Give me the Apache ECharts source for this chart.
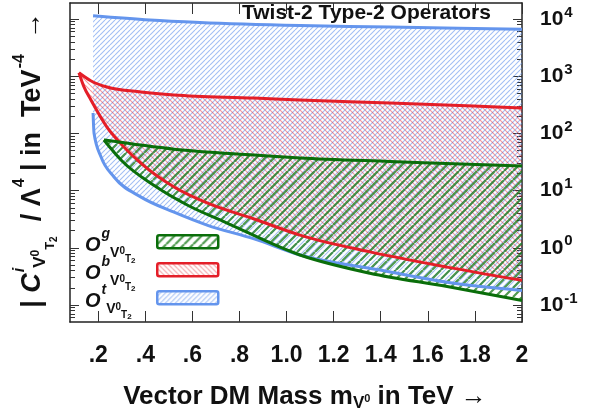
<!DOCTYPE html>
<html><head><meta charset="utf-8">
<script src="https://cdn.jsdelivr.net/npm/echarts@6/dist/echarts.min.js"></script>
<style>html,body{margin:0;padding:0;background:#fff}#c{width:591px;height:418px}</style>
</head><body><div id="c"></div>
<script>
const FONT = '"Liberation Sans", Arial, Helvetica, sans-serif';

// ---- data (x in TeV, y = |C/Lambda^4| in TeV^-4) ----
// O^t (blue) band
const tUpX = [0.178, 0.42, 0.632, 1.057, 1.44, 2.0];
const tUpY = [11400, 9600, 8700, 7700, 7250, 6600];
const tLoX = [0.178, 0.182, 0.212, 0.267, 0.382, 0.522, 0.662, 0.862, 1.057, 1.397, 1.682, 2.0];
const tLoY = [227, 102, 38.6, 17.3, 7.7, 4.2, 2.5, 1.43, 0.75, 0.41, 0.25, 0.18];
// O^b (red) band
const bUpX = [0.118, 0.168, 0.237, 0.382, 0.522, 0.862, 1.057, 1.439, 2.0];
const bUpY = [1150, 835, 647, 530, 469, 416, 384, 340, 278];
const bLoX = [0.118, 0.139, 0.169, 0.237, 0.309, 0.382, 0.522, 0.662, 0.862, 1.057, 1.354, 1.682, 2.0];
const bLoY = [1150, 656, 384, 129, 58, 30, 11.6, 6.1, 3.19, 1.67, 0.85, 0.46, 0.27];
// O^g (green) band
const gUpX = [0.224, 0.522, 0.862, 1.057, 1.439, 2.0];
const gUpY = [76.7, 53.1, 41.9, 37.2, 32.3, 26.9];
const gLoX = [0.224, 0.301, 0.441, 0.586, 0.738, 1.057, 1.354, 1.682, 2.0];
const gLoY = [76.7, 32.9, 12.0, 5.38, 2.82, 0.75, 0.36, 0.21, 0.12];

// ---- axes ----
const X_MIN = 0.08, X_MAX = 2.0;
const Y_MIN = 0.0505, Y_MAX = 19050;
const xTickValues = [0.2, 0.4, 0.6, 0.8, 1.0, 1.2, 1.4, 1.6, 1.8, 2.0];
const xTickLabels = ['.2', '.4', '.6', '.8', '1.0', '1.2', '1.4', '1.6', '1.8', '2'];
const yDecades = [-1, 0, 1, 2, 3, 4];
const yDecadeLabels = ['-1', '0', '1', '2', '3', '4'];
const yMinorMultipliers = [2, 3, 4, 5, 6, 7, 8, 9];

const lgMin = Math.log10(Y_MIN), lgMax = Math.log10(Y_MAX);
const yMinor = [];
for (let d = -2; d <= 4; d++) {
  yMinorMultipliers.forEach(k => {
    const v = d + Math.log10(k);
    if (v > lgMin && v < lgMax) yMinor.push(v);
  });
}

const COL = { t: 'rgb(100,149,237)', b: 'rgb(228,30,40)', g: 'rgb(10,110,10)' };

function hatch(color, period, width, dir) {
  const c = document.createElement('canvas');
  c.width = period; c.height = period;
  const ctx = c.getContext('2d');
  ctx.strokeStyle = color; ctx.lineWidth = width;
  ctx.beginPath();
  for (let k = -1; k <= 1; k++) {
    if (dir > 0) { ctx.moveTo(k * period, period); ctx.lineTo(k * period + period, 0); }
    else { ctx.moveTo(k * period, 0); ctx.lineTo(k * period + period, period); }
  }
  ctx.stroke();
  return { image: c, repeat: 'repeat' };
}
const PAT = {
  t: hatch('rgba(100,149,237,0.6)', 5, 1.1, 1),
  b: hatch('rgba(228,30,40,0.45)', 5, 1.1, -1),
  g: hatch('rgba(20,120,20,0.75)', 9, 2.2, 1)
};

// monotone cubic (d3 monotoneX style) segments in pixel space
function segments(pts) {
  const n = pts.length, h = [], s = [], t = [];
  for (let i = 0; i < n - 1; i++) {
    h[i] = pts[i + 1][0] - pts[i][0];
    s[i] = (pts[i + 1][1] - pts[i][1]) / h[i];
  }
  for (let i = 1; i < n - 1; i++) {
    const p = (s[i - 1] * h[i] + s[i] * h[i - 1]) / (h[i - 1] + h[i]);
    t[i] = (Math.sign(s[i - 1]) + Math.sign(s[i])) * Math.min(Math.abs(s[i - 1]), Math.abs(s[i]), 0.5 * Math.abs(p)) || 0;
  }
  t[0] = n > 2 ? (3 * s[0] - t[1]) / 2 : s[0];
  t[n - 1] = n > 2 ? (3 * s[n - 2] - t[n - 2]) / 2 : s[0];
  const segs = [];
  for (let i = 0; i < n - 1; i++) {
    const d = h[i] / 3;
    segs.push({
      p0: pts[i], p1: pts[i + 1],
      c1: [pts[i][0] + d, pts[i][1] + t[i] * d],
      c2: [pts[i + 1][0] - d, pts[i + 1][1] - t[i + 1] * d]
    });
  }
  return segs;
}
const f = v => v.toFixed(2);
function fwd(segs) { return segs.map(g => 'C' + f(g.c1[0]) + ',' + f(g.c1[1]) + ' ' + f(g.c2[0]) + ',' + f(g.c2[1]) + ' ' + f(g.p1[0]) + ',' + f(g.p1[1])).join(' '); }
function rev(segs) { return segs.slice().reverse().map(g => 'C' + f(g.c2[0]) + ',' + f(g.c2[1]) + ' ' + f(g.c1[0]) + ',' + f(g.c1[1]) + ' ' + f(g.p0[0]) + ',' + f(g.p0[1])).join(' '); }

function bandSeries(key, upX, upY, loX, loY, mode) {
  return {
    type: 'custom', coordinateSystem: 'cartesian2d', xAxisIndex: 0, yAxisIndex: 0,
    silent: true, animation: false, z: mode === 'fill' ? 2 : 3,
    data: [[1, 1]],
    renderItem: function (params, api) {
      const up = upX.map((x, i) => api.coord([x, Math.log10(upY[i])]));
      const lo = loX.map((x, i) => api.coord([x, Math.log10(loY[i])]));
      const su = segments(up), sl = segments(lo);
      if (mode === 'fill') {
        const d = 'M' + f(up[0][0]) + ',' + f(up[0][1]) + ' ' + fwd(su) + ' L' + f(lo[lo.length - 1][0]) + ',' + f(lo[lo.length - 1][1]) + ' ' + rev(sl) + ' Z';
        return { type: 'path', shape: { pathData: d }, style: { fill: PAT[key], stroke: null } };
      }
      const du = 'M' + f(up[0][0]) + ',' + f(up[0][1]) + ' ' + fwd(su);
      const dl = 'M' + f(lo[0][0]) + ',' + f(lo[0][1]) + ' ' + fwd(sl);
      return { type: 'group', children: [
        { type: 'path', shape: { pathData: du }, style: { fill: null, stroke: COL[key], lineWidth: 3, lineJoin: 'round' } },
        { type: 'path', shape: { pathData: dl }, style: { fill: null, stroke: COL[key], lineWidth: 3, lineJoin: 'round' } }
      ] };
    }
  };
}

const axisLineStyle = { color: '#222', width: 1.5 };
const tickStyle = { color: '#333', width: 1 };
function xAx(pos, labels) {
  return {
    type: 'value', position: pos, min: X_MIN, max: X_MAX,
    axisLine: { show: true, onZero: false, lineStyle: axisLineStyle },
    axisTick: { show: true, inside: true, length: 11, customValues: xTickValues, lineStyle: tickStyle },
    axisLabel: labels ? {
      show: true, customValues: xTickValues, margin: 22,
      fontSize: 23, fontWeight: 'bold', fontFamily: FONT, color: '#111',
      formatter: v => { const i = xTickValues.findIndex(t => Math.abs(t - v) < 1e-6); return i >= 0 ? xTickLabels[i] : ''; }
    } : { show: false },
    splitLine: { show: false }
  };
}
function yAx(pos, major, labels) {
  return {
    type: 'value', position: pos, min: lgMin, max: lgMax, offset: 0,
    axisLine: { show: major, onZero: false, lineStyle: axisLineStyle },
    axisTick: { show: true, inside: true, length: major ? 9 : 5, customValues: major ? yDecades : yMinor, lineStyle: tickStyle },
    axisLabel: labels ? {
      show: true, customValues: yDecades, margin: 18,
      formatter: v => { const i = yDecades.findIndex(t => Math.abs(t - v) < 1e-6); return i >= 0 ? '{b|10}{s|' + yDecadeLabels[i] + '}' : ''; },
      rich: {
        b: { fontSize: 21, fontWeight: 'bold', fontFamily: FONT, color: '#111', lineHeight: 28 },
        s: { fontSize: 15, fontWeight: 'bold', fontFamily: FONT, color: '#111', lineHeight: 15, verticalAlign: 'top', padding: [0, 0, 0, 1] }
      }
    } : { show: false },
    splitLine: { show: false }
  };
}

function richBase(size, extra) { return Object.assign({ fontSize: size, fontWeight: 'bold', fontFamily: FONT, fill: '#111' }, extra || {}); }

// legend text rich
const legRich = {
  O: richBase(20, { fontStyle: 'italic', lineHeight: 44 }),
  sp: richBase(14, { fontStyle: 'italic', lineHeight: 14, verticalAlign: 'top', padding: [4, 0, 0, 1] }),
  V: richBase(14, { lineHeight: 14, verticalAlign: 'bottom', padding: [0, 0, 7, 0] }),
  z: richBase(10, { lineHeight: 10, verticalAlign: 'bottom', padding: [0, 0, 11.5, 0] }),
  T: richBase(10, { lineHeight: 10, verticalAlign: 'bottom', padding: [0, 0, 3.5, 0] }),
  two: richBase(8, { lineHeight: 8, verticalAlign: 'bottom', padding: [0, 0, 2.5, 0] })
};
const legendItems = [
  { key: 'g', sup: 'g', boxTop: 234 },
  { key: 'b', sup: 'b', boxTop: 262 },
  { key: 't', sup: 't', boxTop: 290 }
];
const graphics = [];
legendItems.forEach(it => {
  graphics.push({
    type: 'rect', left: 156, top: it.boxTop, z: 10,
    shape: { width: 61, height: 13, r: 2 },
    style: { fill: PAT[it.key], stroke: COL[it.key], lineWidth: 2.5 }
  });
  graphics.push({
    type: 'text', x: 85, y: it.boxTop + 6.5 + 5 - 22, z: 10,
    style: { text: '{O|O}{sp|' + it.sup + '}{V|V}{z|0}{T|T}{two|2}', rich: legRich, align: 'left', verticalAlign: 'top' }
  });
});
// title inside plot
graphics.push({
  type: 'text', x: 242, y: 13, z: 10,
  style: { text: 'Twist-2 Type-2 Operators', fontSize: 21, fontWeight: 'bold', fontFamily: FONT, fill: '#111', align: 'left', verticalAlign: 'middle' }
});
// x axis name
graphics.push({
  type: 'text', x: 305, y: 397, z: 10,
  style: {
    text: '{m|Vector DM Mass m}{V|V}{z|0}{m| in TeV →}', align: 'center', verticalAlign: 'middle',
    rich: {
      m: richBase(26, { lineHeight: 34 }),
      V: richBase(17, { lineHeight: 17, verticalAlign: 'bottom', padding: [0, 0, 2.5, 0] }),
      z: richBase(11, { lineHeight: 11, verticalAlign: 'bottom', padding: [0, 0, 9.5, 0] })
    }
  }
});
// y axis name (rotated)
graphics.push({
  type: 'text', x: 33, y: 160, rotation: Math.PI / 2, z: 10,
  style: {
    text: '{m|| }{mi|C}{spi|i}{V|V}{z|0}{T|T}{two|2}{m|  / Λ}{sp|4}{m| | in  TeV}{sp|-4}{m|  →}',
    align: 'center', verticalAlign: 'middle',
    rich: {
      m: richBase(27, { lineHeight: 52 }),
      mi: richBase(27, { lineHeight: 52, fontStyle: 'italic' }),
      sp: richBase(16, { lineHeight: 16, verticalAlign: 'top', padding: [5, 0, 0, 1] }),
      spi: richBase(16, { lineHeight: 16, verticalAlign: 'top', padding: [5, 0, 0, 1], fontStyle: 'italic' }),
      V: richBase(17, { lineHeight: 17, verticalAlign: 'bottom', padding: [0, 0, 10.5, 0] }),
      z: richBase(12, { lineHeight: 12, verticalAlign: 'bottom', padding: [0, 0, 17, 0] }),
      T: richBase(13, { lineHeight: 13, verticalAlign: 'bottom', padding: [0, 0, 2.5, 0] }),
      two: richBase(10, { lineHeight: 10, verticalAlign: 'bottom', padding: [0, 0, 0, 0] })
    }
  }
});

const chart = echarts.init(document.getElementById('c'), null, { renderer: 'canvas' });
chart.setOption({
  backgroundColor: '#fff',
  animation: false,
  grid: { left: 70, right: 69, top: 3, bottom: 96, containLabel: false, outerBoundsMode: 'none' },
  xAxis: [xAx('bottom', true), xAx('top', false)],
  yAxis: [yAx('right', true, true), yAx('right', false, false), yAx('left', true, false), yAx('left', false, false)],
  series: [
    bandSeries('t', tUpX, tUpY, tLoX, tLoY, 'fill'),
    bandSeries('b', bUpX, bUpY, bLoX, bLoY, 'fill'),
    bandSeries('g', gUpX, gUpY, gLoX, gLoY, 'fill'),
    bandSeries('t', tUpX, tUpY, tLoX, tLoY, 'line'),
    bandSeries('b', bUpX, bUpY, bLoX, bLoY, 'line'),
    bandSeries('g', gUpX, gUpY, gLoX, gLoY, 'line')
  ],
  graphic: graphics
});
</script></body></html>
